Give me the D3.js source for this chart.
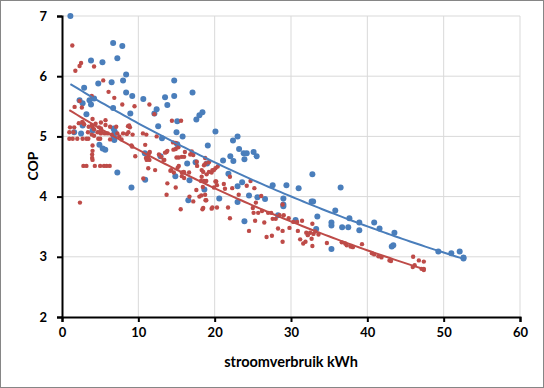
<!DOCTYPE html>
<html>
<head>
<meta charset="utf-8">
<script src="https://cdn.jsdelivr.net/npm/d3@7"></script>
<style>
  body { margin: 0; background: #fff; }
  svg { display: block; font-family: Lato, "Open Sans", sans-serif; }
</style>
</head>
<body>
<svg id="chart" width="544" height="388"></svg>
<script>
var width = 544;
var height = 388;
var blueColor = "#4a7ebb";
var redColor = "#be4b48";

var xTicks = [0, 10, 20, 30, 40, 50, 60];
var yTicks = [2, 3, 4, 5, 6, 7];

// series 1 (blue): [kWh, COP]
var bluePoints = [
  [1.1,7.0],[6.7,6.55],[7.9,6.5],[3.8,6.26],[5.3,6.23],[7.25,6.3],[8.4,6.03],[8.0,5.93],[6.5,5.9],[4.75,5.88],
  [2.9,5.81],[8.4,5.73],[9.2,5.67],[10.65,5.62],[13.5,5.65],[14.7,5.93],[14.7,5.67],[17.1,5.73],[2.3,5.6],[2.7,5.55],
  [3.6,5.6],[4.2,5.63],[3.8,5.53],[6.7,5.47],[8.95,5.38],[12.4,5.45],[12.1,5.38],[13.8,5.52],[3.2,5.37],[12.6,5.17],
  [15.1,5.25],[17.6,5.28],[18.0,5.35],[18.4,5.4],[2.7,5.18],[20.1,5.08],[1.6,5.07],[2.5,5.05],[4.0,5.1],[6.75,5.13],
  [6.9,5.08],[6.8,5.0],[6.85,4.94],[4.9,4.86],[5.33,4.8],[5.67,4.78],[7.25,4.4],[9.1,4.15],[10.85,4.72],[10.9,4.28],
  [15.0,5.07],[15.8,5.0],[13.1,4.97],[15.1,4.87],[12.9,4.67],[14.85,4.34],[16.4,4.55],[17.5,4.57],[16.7,4.27],[16.55,3.94],
  [18.65,4.12],[19.0,4.55],[19.1,4.85],[20.6,3.97],[23.0,5.0],[22.4,4.93],[23.2,4.79],[23.8,4.72],[24.2,4.72],[25.1,4.74],
  [25.5,4.67],[23.9,4.62],[22.05,4.67],[22.45,4.59],[21.1,4.6],[21.8,4.38],[23.6,4.24],[23.0,4.17],[24.5,4.02],[25.6,3.99],
  [26.6,3.96],[23.0,3.91],[27.6,4.19],[29.4,4.19],[31.0,4.14],[32.8,4.37],[29.0,3.97],[29.0,3.87],[29.0,3.84],[28.3,3.69],
  [30.6,3.61],[23.9,3.59],[32.7,3.92],[32.9,3.92],[33.45,3.67],[33.3,3.46],[35.8,3.77],[35.3,3.57],[35.3,3.52],[36.5,4.15],
  [36.7,3.49],[37.5,3.49],[37.65,3.64],[35.3,3.13],[38.95,3.57],[38.95,3.44],[40.9,3.57],[41.6,3.47],[43.55,3.4],[43.2,3.17],
  [43.4,3.19],[49.3,3.09],[51.0,3.06],[52.1,3.09],[52.6,2.99],[52.6,2.97]
];

// series 2 (red): [kWh, COP]
var redPoints = [
  [1.35,6.51],[2.5,6.22],[2.3,6.17],[1.75,6.09],[4.2,6.16],[5.4,5.93],[6.1,5.74],[6.85,5.64],[3.9,5.67],[7.9,5.53],
  [9.5,5.5],[11.45,5.53],[12.1,5.37],[1.65,5.49],[2.3,5.59],[2.6,5.48],[4.0,5.29],[5.1,5.23],[5.7,5.27],[14.4,5.26],
  [15.6,5.26],[1.05,5.15],[1.6,5.15],[2.2,5.22],[2.8,5.22],[4.0,5.16],[4.4,5.21],[4.85,5.15],[5.1,5.13],[6.3,5.16],
  [7.1,5.16],[8.65,5.17],[8.9,5.15],[3.5,5.16],[0.96,5.07],[1.5,5.07],[2.65,5.24],[2.9,5.2],[3.9,5.18],[4.2,5.12],
  [4.9,5.07],[5.1,5.05],[5.7,5.19],[3.4,5.07],[3.9,5.03],[4.2,5.01],[4.65,5.07],[5.2,5.07],[5.6,5.05],[6.0,5.05],
  [6.5,5.03],[7.25,5.05],[8.0,5.05],[8.5,5.04],[9.25,5.03],[8.8,5.18],[8.7,5.07],[0.96,4.96],[1.4,4.96],[2.0,4.96],
  [2.7,4.96],[3.2,4.96],[3.45,4.96],[4.75,4.96],[5.0,4.96],[4.0,4.85],[4.0,4.76],[3.95,4.7],[3.95,4.64],[4.0,4.61],
  [2.8,4.51],[3.2,4.51],[4.3,4.51],[5.0,4.51],[5.5,4.51],[5.85,4.51],[6.25,4.51],[2.35,3.9],[7.5,5.0],[7.8,4.95],
  [6.3,4.95],[9.1,4.85],[9.2,4.83],[9.6,4.67],[10.6,5.05],[11.05,5.03],[10.9,4.86],[11.5,4.74],[11.4,4.72],[11.0,4.64],
  [11.45,4.61],[11.3,4.47],[10.65,4.3],[12.2,4.44],[12.4,5.0],[12.7,4.7],[13.0,4.66],[13.3,4.61],[13.7,4.74],[13.8,4.76],
  [13.8,4.22],[13.7,4.03],[14.2,4.43],[14.65,4.4],[14.9,4.15],[15.0,4.65],[15.3,4.65],[15.7,4.66],[16.0,4.66],[14.9,4.79],
  [15.25,4.82],[14.55,4.9],[14.9,4.89],[15.3,4.51],[15.7,4.4],[16.0,4.4],[15.7,4.34],[16.7,4.0],[17.2,3.92],[15.55,3.79],
  [17.6,4.11],[18.0,4.0],[18.2,4.26],[18.3,4.44],[18.5,4.41],[18.6,4.52],[18.8,4.55],[18.8,3.94],[18.4,3.79],[19.6,3.8],
  [20.3,3.82],[19.6,4.4],[19.9,4.44],[20.1,4.47],[20.1,4.25],[20.3,4.19],[17.0,4.75],[17.2,4.69],[17.65,4.58],[17.7,4.51],
  [20.4,4.5],[18.6,4.26],[18.45,4.16],[20.2,4.25],[19.9,4.15],[21.2,4.21],[21.35,4.13],[22.0,4.33],[22.3,4.14],[18.25,4.02],
  [18.75,4.03],[18.9,3.94],[18.5,3.81],[19.7,3.82],[21.75,3.82],[22.0,3.64],[23.15,4.03],[24.2,4.18],[25.2,4.14],[24.7,4.26],
  [25.0,3.81],[25.4,3.9],[25.1,3.73],[25.7,3.73],[26.2,3.76],[25.3,3.6],[26.1,4.01],[26.5,3.57],[27.0,3.73],[27.4,3.73],
  [27.6,3.63],[28.0,3.63],[28.3,3.47],[24.5,3.43],[26.8,3.33],[27.5,3.35],[28.9,3.25],[28.9,3.87],[28.9,3.43],[28.5,3.69],
  [29.05,3.69],[29.7,3.64],[29.8,3.48],[30.3,3.58],[30.8,3.58],[31.45,3.6],[30.9,3.43],[31.2,3.29],[31.6,3.22],[31.9,3.25],
  [32.0,3.4],[32.2,3.36],[32.5,3.4],[32.8,3.55],[32.8,3.18],[32.95,3.38],[33.2,3.42],[34.7,3.23],[33.6,3.37],[32.7,3.3],
  [36.65,3.24],[37.1,3.22],[37.3,3.19],[37.8,3.17],[38.1,3.16],[39.3,3.21],[40.6,3.06],[40.9,3.04],[41.45,3.01],[41.85,2.99],
  [42.9,2.94],[43.1,2.93],[46.0,3.0],[46.75,2.94],[47.4,2.92],[46.2,2.86],[47.4,2.8],[47.4,2.78],[47.1,2.8],[45.95,2.83],
  [11.1,4.61],[11.3,4.66],[13.4,4.61],[14.3,4.44],[15.15,4.48],[15.95,4.41],[16.65,4.4],[16.0,4.31],[18.3,4.33],[18.95,4.37],
  [19.25,4.41],[19.7,4.44],[18.75,4.64],[19.25,4.57],[18.9,4.26],[16.1,4.74],[16.8,4.7],[14.6,4.78],[13.5,4.73]
];

var svg = d3.select("#chart");

svg.append("rect")
  .attr("x", 0.5).attr("y", 0.5)
  .attr("width", width - 1).attr("height", height - 1)
  .attr("fill", "#fff")
  .attr("stroke", "#868686");

var x = d3.scaleLinear().domain([0, 60]).range([62, 520]);
var y = d3.scaleLinear().domain([2, 7]).range([317, 16]);

// gridlines
svg.append("g")
  .selectAll("line.hgrid")
  .data(yTicks.slice(1))
  .enter().append("line")
  .attr("x1", x(0)).attr("x2", x(60))
  .attr("y1", d => y(d)).attr("y2", d => y(d))
  .attr("stroke", "#d9d9d9").attr("stroke-width", 1);

svg.append("g")
  .selectAll("line.vgrid")
  .data(xTicks.slice(1))
  .enter().append("line")
  .attr("x1", d => x(d)).attr("x2", d => x(d))
  .attr("y1", y(2)).attr("y2", y(7))
  .attr("stroke", "#d9d9d9").attr("stroke-width", 1);

// exponential trendline, least squares on ln(y) like Excel
function expFit(pts) {
  var n = pts.length;
  var sx = d3.sum(pts, p => p[0]);
  var sl = d3.sum(pts, p => Math.log(p[1]));
  var sxx = d3.sum(pts, p => p[0] * p[0]);
  var sxl = d3.sum(pts, p => p[0] * Math.log(p[1]));
  var b = (n * sxl - sx * sl) / (n * sxx - sx * sx);
  var a = Math.exp((sl - b * sx) / n);
  var ext = d3.extent(pts, p => p[0]);
  var xs = d3.range(ext[0], ext[1], 0.5).concat([ext[1]]);
  return xs.map(v => [v, a * Math.exp(b * v)]);
}

var line = d3.line().x(d => x(d[0])).y(d => y(d[1]));

svg.append("g")
  .selectAll("circle")
  .data(bluePoints)
  .enter().append("circle")
  .attr("cx", d => x(d[0])).attr("cy", d => y(d[1]))
  .attr("r", 3)
  .attr("fill", blueColor);

svg.append("g")
  .selectAll("circle")
  .data(redPoints)
  .enter().append("circle")
  .attr("cx", d => x(d[0])).attr("cy", d => y(d[1]))
  .attr("r", 2.2)
  .attr("fill", redColor);

svg.append("path")
  .datum(expFit(bluePoints))
  .attr("fill", "none").attr("stroke", blueColor).attr("stroke-width", 2)
  .attr("d", line);

svg.append("path")
  .datum(expFit(redPoints))
  .attr("fill", "none").attr("stroke", redColor).attr("stroke-width", 2)
  .attr("d", line);

// axes
var xAxis = svg.append("g")
  .attr("transform", `translate(0,${y(2)})`)
  .call(d3.axisBottom(x).tickValues(xTicks).tickFormat(d3.format("d")).tickSize(5).tickPadding(6));

var yAxis = svg.append("g")
  .attr("transform", `translate(${x(0)},0)`)
  .call(d3.axisLeft(y).tickValues(yTicks).tickFormat(d3.format("d")).tickSize(5).tickPadding(10));

[xAxis, yAxis].forEach(g => {
  g.select(".domain").attr("stroke", "#000").attr("stroke-width", 2);
  g.selectAll(".tick line").attr("stroke", "#000").attr("stroke-width", 2);
  g.selectAll(".tick text")
    .attr("fill", "#000")
    .style("font-family", "Lato, sans-serif")
    .style("font-size", "13px")
    .style("font-weight", "bold");
});

svg.append("text")
  .attr("x", 291).attr("y", 367)
  .attr("text-anchor", "middle")
  .style("font-size", "14.5px")
  .style("font-weight", "bold")
  .text("stroomverbruik kWh");

svg.append("text")
  .attr("transform", "translate(38,166) rotate(-90)")
  .attr("text-anchor", "middle")
  .style("font-size", "14px")
  .style("font-weight", "bold")
  .text("COP");
</script>
</body>
</html>
